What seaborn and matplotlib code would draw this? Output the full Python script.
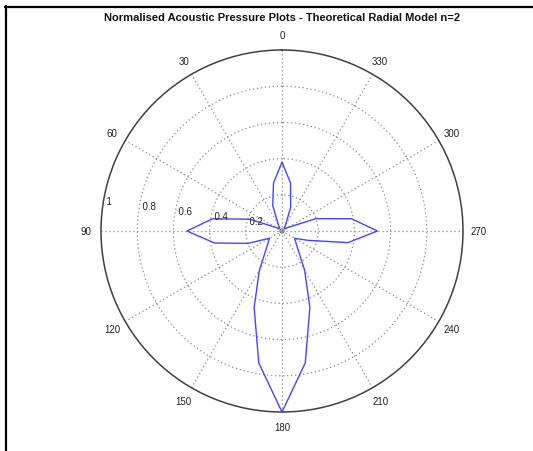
import numpy as np
import pandas as pd
import matplotlib
matplotlib.use("Agg")
import matplotlib.pyplot as plt
import seaborn as sns

# ---- data ----
angle_deg = [0, 10, 20, 30, 40, 50, 60, 70, 80, 90, 100, 110, 120, 130, 140, 150,
             160, 170, 180, 190, 200, 210, 220, 230, 240, 250, 260, 270, 280, 290,
             300, 310, 320, 330, 340, 350, 360]
pressure = [0.38, 0.27, 0.15, 0.04, 0.02, 0.02, 0.04, 0.19, 0.39, 0.525, 0.38, 0.20,
            0.08, 0.10, 0.14, 0.25, 0.45, 0.74, 1.00, 0.74, 0.45, 0.25, 0.14, 0.10,
            0.08, 0.15, 0.37, 0.527, 0.39, 0.20, 0.04, 0.02, 0.02, 0.04, 0.14, 0.27, 0.38]
theta_ticks = [0, 30, 60, 90, 120, 150, 180, 210, 240, 270, 300, 330]
theta_labels = ["0", "30", "60", "90", "120", "150", "180", "210", "240", "270", "300", "330"]
r_ticks = [0.2, 0.4, 0.6, 0.8, 1.0]
r_labels = ["0.2", "0.4", "0.6", "0.8", "1"]
title = "Normalised Acoustic Pressure Plots - Theoretical Radial Model n=2"

sns.set_style("white")
plt.rcParams["font.family"] = ["Liberation Sans", "DejaVu Sans"]

df = pd.DataFrame({"theta": np.deg2rad(angle_deg), "r": pressure})

W, H = 533, 452
fig = plt.figure(figsize=(W / 100, H / 100), dpi=100)
cx, cy, R = 282, 232, 181
ax = fig.add_axes([(cx - R) / W, (H - cy - R) / H, 2 * R / W, 2 * R / H], projection="polar")
ax.set_theta_zero_location("N")
ax.set_theta_direction(1)
ax.set_ylim(0, 1)

grid_col = "#8a8a8a"
ax.set_xticks(np.deg2rad(theta_ticks))
ax.set_yticks(r_ticks[:-1])
ax.set_xticklabels([])
ax.set_yticklabels([])
ax.grid(True, color=grid_col, linestyle=(0, (1, 2.2)), linewidth=0.9)
ax.spines["polar"].set_color("#404040")
ax.spines["polar"].set_linewidth(1.1)

sns.lineplot(data=df, x="theta", y="r", ax=ax, sort=False, estimator=None,
             color="#4646ff", linewidth=1.0)
ax.set_xlabel("")
ax.set_ylabel("")

# angle labels
for t, lab in zip(theta_ticks, theta_labels):
    ax.text(np.deg2rad(t), 1.085, lab, ha="center", va="center",
            fontsize=7, color="#222222")
# radial labels
for rv, lab in zip(r_ticks, r_labels):
    ax.text(np.deg2rad(82), rv + 0.01, "  " + lab, ha="left", va="bottom",
            fontsize=7, color="#222222")
# small centre marker
ax.scatter([0], [0], s=9, facecolors="none", edgecolors="#666666", linewidths=0.7, zorder=5)

fig.text(cx / W, 1 - 18 / H, title, ha="center", va="center",
         fontsize=8, fontweight="bold", color="#111111")

# frame lines (top and left)
fig.add_artist(plt.Line2D([5 / W, 1], [1 - 7.5 / H, 1 - 7.5 / H], color="black", linewidth=1.6,
                          transform=fig.transFigure))
fig.add_artist(plt.Line2D([6 / W, 6 / W], [0, 1 - 7 / H], color="black", linewidth=1.6,
                          transform=fig.transFigure))

fig.savefig("out.png", dpi=100, facecolor="white")
